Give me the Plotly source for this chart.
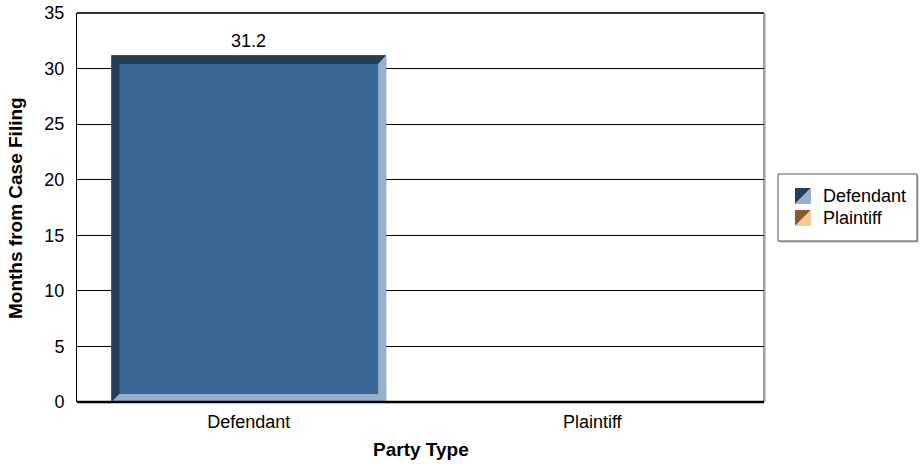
import plotly.graph_objects as go

categories = ["Defendant", "Plaintiff"]
values = [31.2, 0]
value_labels = ["31.2", ""]
y_ticks = [0, 5, 10, 15, 20, 25, 30, 35]
x_title = "Party Type"
y_title = "Months from Case Filing"

fill_colors = ["#3A6696", "#D9A066"]
dark_colors = ["#243F5E", "#8B5A2B"]
light_colors = ["#9AAFCB", "#F6C998"]

FONT = "Liberation Sans, Arial, sans-serif"
W, H = 922, 465
L, R, T, B = 77, 158, 13, 63
plot_w = W - L - R
plot_h = H - T - B
y_max = 35
bar_w = 0.8
bevel_px = 8

x_idx = list(range(len(categories)))

fig = go.Figure()
fig.add_trace(go.Bar(
    x=x_idx, y=values, width=bar_w,
    marker=dict(color=fill_colors, line=dict(width=0)),
    cliponaxis=False, showlegend=False, hoverinfo="skip",
))

x_range = (-0.5, len(categories) - 0.5)
ux = (x_range[1] - x_range[0]) / plot_w  # data units per px
uy = y_max / plot_h
bx, by = bevel_px * ux, bevel_px * uy

shapes = []
annotations = []
for i, v in zip(x_idx, values):
    if value_labels[i]:
        annotations.append(dict(text=value_labels[i], x=i, y=v, xref="x", yref="y",
                                xanchor="center", yanchor="bottom", yshift=2,
                                showarrow=False,
                                font=dict(family=FONT, size=18, color="#000")))
    if v <= 0:
        continue
    x0, x1, y0, y1 = i - bar_w / 2, i + bar_w / 2, 0, v
    dark = (f"M {x0},{y0} L {x0},{y1} L {x1},{y1} L {x1-bx},{y1-by*1.1} "
            f"L {x0+bx},{y1-by*1.1} L {x0+bx},{y0+by} Z")
    light = (f"M {x1},{y1} L {x1},{y0} L {x0},{y0} L {x0+bx},{y0+by} "
             f"L {x1-bx},{y0+by} L {x1-bx},{y1-by*1.1} Z")
    shapes.append(dict(type="path", path=dark, xref="x", yref="y",
                       fillcolor=dark_colors[i], line=dict(width=0), layer="above"))
    shapes.append(dict(type="path", path=light, xref="x", yref="y",
                       fillcolor=light_colors[i], line=dict(width=0), layer="above"))


def px_x(p):
    return (p - L) / plot_w


def px_y(p):
    return 1 - (p - T) / plot_h


# plot frame
shapes.append(dict(type="line", xref="paper", yref="paper", x0=0, x1=1, y0=1, y1=1,
                   line=dict(color="#333333", width=2)))
shapes.append(dict(type="line", xref="paper", yref="paper", x0=px_x(765.5), x1=px_x(765.5),
                   y0=0, y1=1, line=dict(color="#CCCCCC", width=1)))
shapes.append(dict(type="line", xref="paper", yref="paper", x0=1, x1=1, y0=0, y1=1,
                   line=dict(color="#444444", width=1)))
shapes.append(dict(type="line", xref="paper", yref="paper", x0=0, x1=1, y0=0, y1=0,
                   line=dict(color="#000000", width=2.5)))

# legend box
lg_x0, lg_x1, lg_y0, lg_y1 = 778, 917, 174, 241
shapes.append(dict(type="rect", xref="paper", yref="paper",
                   x0=px_x(lg_x0 + 1.5), x1=px_x(lg_x1 + 1.5), y0=px_y(lg_y1 + 1.5), y1=px_y(lg_y0 + 1.5),
                   fillcolor="#BBBBBB", line=dict(width=0), layer="below"))
shapes.append(dict(type="rect", xref="paper", yref="paper",
                   x0=px_x(lg_x0), x1=px_x(lg_x1), y0=px_y(lg_y1), y1=px_y(lg_y0),
                   fillcolor="white", line=dict(color="#555555", width=1)))

row_centers = [196, 218]
sq = 16
for i, name in enumerate(categories):
    cy = row_centers[i]
    sx0, sx1 = 795, 795 + sq
    sy0, sy1 = cy - sq / 2, cy + sq / 2
    shapes.append(dict(type="path", xref="paper", yref="paper",
                       path=f"M {px_x(sx0)},{px_y(sy0)} L {px_x(sx1)},{px_y(sy0)} L {px_x(sx0)},{px_y(sy1)} Z",
                       fillcolor=dark_colors[i], line=dict(width=0)))
    shapes.append(dict(type="path", xref="paper", yref="paper",
                       path=f"M {px_x(sx1)},{px_y(sy0)} L {px_x(sx1)},{px_y(sy1)} L {px_x(sx0)},{px_y(sy1)} Z",
                       fillcolor=light_colors[i], line=dict(width=0)))
    annotations.append(dict(text=name, xref="paper", yref="paper", x=px_x(821), y=px_y(cy),
                            xanchor="left", yanchor="middle", showarrow=False,
                            font=dict(family=FONT, size=18, color="#000")))

# axis titles
annotations.append(dict(text=f"<b>{x_title}</b>", xref="paper", yref="paper",
                        x=px_x(420.5), y=px_y(449), xanchor="center", yanchor="middle",
                        showarrow=False, font=dict(family=FONT, size=19, color="#000")))
annotations.append(dict(text=f"<b>{y_title}</b>", xref="paper", yref="paper",
                        x=px_x(16), y=px_y(208), xanchor="center", yanchor="middle",
                        textangle=-90, showarrow=False,
                        font=dict(family=FONT, size=19, color="#000")))

fig.update_layout(
    width=W, height=H,
    margin=dict(l=L, r=R, t=T, b=B, pad=0, autoexpand=False),
    paper_bgcolor="white", plot_bgcolor="white",
    font=dict(family=FONT, size=18, color="#000"),
    showlegend=False,
    shapes=shapes, annotations=annotations,
    xaxis=dict(
        range=list(x_range), tickmode="array", tickvals=x_idx, ticktext=categories,
        showgrid=False, zeroline=False, showline=False, ticks="",
        ticklabelstandoff=7, tickfont=dict(family=FONT, size=18),
        fixedrange=True, automargin=False,
    ),
    yaxis=dict(
        range=[0, y_max], tickmode="array", tickvals=y_ticks,
        showgrid=True, gridcolor="#000000", gridwidth=1,
        zeroline=False, showline=True, linecolor="#000000", linewidth=1,
        ticks="", ticklabelstandoff=8, tickfont=dict(family=FONT, size=18),
        fixedrange=True, automargin=False,
    ),
)

fig.write_html(
    "out.html",
    config={"displayModeBar": False},
    post_script="document.body.style.margin='0';document.body.style.overflow='hidden';",
)
